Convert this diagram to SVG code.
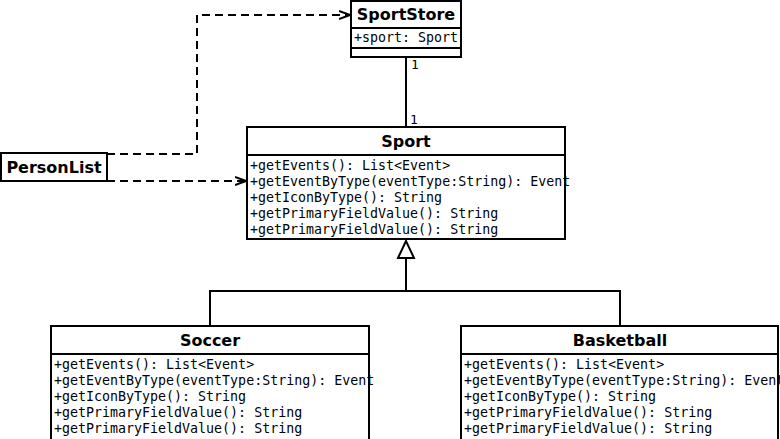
<svg xmlns="http://www.w3.org/2000/svg" width="780" height="439" viewBox="0 0 780 439">
<style>
.box{fill:#fff;stroke:#000;stroke-width:2}
.ln{fill:none;stroke:#000;stroke-width:2}
.title{font-family:"DejaVu Sans",sans-serif;font-weight:bold;font-size:16px;text-anchor:middle}
.m{font-family:"DejaVu Sans Mono",monospace;font-size:13.3px}
.dash{fill:none;stroke:#000;stroke-width:2;stroke-dasharray:8,5}
.lbl{font-family:"DejaVu Sans Mono",monospace;font-size:13px}
</style>
<defs>
<marker id="open" viewBox="0 0 12 10" refX="11" refY="5" markerWidth="12" markerHeight="10" markerUnits="userSpaceOnUse" orient="auto">
<path d="M0,1 L11,5 L0,9" fill="none" stroke="#000" stroke-width="2"/>
</marker>
</defs>
<rect width="780" height="439" fill="#fff"/>
<g id="connectors">
<line class="ln" x1="406" y1="57" x2="406" y2="127"/>
<text class="lbl" x="411" y="69">1</text>
<text class="lbl" x="410" y="124">1</text>
<polyline class="dash" points="107,154 197,154 197,15 350,15" marker-end="url(#open)"/>
<polyline class="dash" points="107,181 246,181" marker-end="url(#open)"/>
<polyline class="ln" points="210,326 210,291 620,291 620,326"/>
<line class="ln" x1="406" y1="291" x2="406" y2="258"/>
<polygon points="406,241 398,258 414,258" fill="#fff" stroke="#000" stroke-width="2"/>
</g>
<g id="SportStore">
<rect class="box" x="351" y="1" width="110" height="56"/>
<line class="ln" x1="351" y1="28" x2="461" y2="28"/>
<line class="ln" x1="351" y1="48" x2="461" y2="48"/>
<text class="title" x="406" y="20">SportStore</text>
<text class="m" x="354" y="42">+sport: Sport</text>
</g>
<g id="PersonList">
<rect class="box" x="1" y="153" width="106" height="28"/>
<text class="title" x="54" y="173">PersonList</text>
</g>
<g id="Sport">
<rect class="box" x="247" y="127" width="318" height="112"/>
<line class="ln" x1="247" y1="155" x2="565" y2="155"/>
<text class="title" x="406" y="147">Sport</text>
<text class="m" x="250" y="170">+getEvents(): List&lt;Event&gt;</text>
<text class="m" x="250" y="186">+getEventByType(eventType:String): Event</text>
<text class="m" x="250" y="202">+getIconByType(): String</text>
<text class="m" x="250" y="218">+getPrimaryFieldValue(): String</text>
<text class="m" x="250" y="234">+getPrimaryFieldValue(): String</text>
</g>
<g id="Soccer">
<rect class="box" x="51" y="326" width="318" height="120"/>
<line class="ln" x1="51" y1="354" x2="369" y2="354"/>
<text class="title" x="210" y="346">Soccer</text>
<text class="m" x="54" y="369">+getEvents(): List&lt;Event&gt;</text>
<text class="m" x="54" y="385">+getEventByType(eventType:String): Event</text>
<text class="m" x="54" y="401">+getIconByType(): String</text>
<text class="m" x="54" y="417">+getPrimaryFieldValue(): String</text>
<text class="m" x="54" y="433">+getPrimaryFieldValue(): String</text>
</g>
<g id="Basketball">
<rect class="box" x="461" y="326" width="317" height="120"/>
<line class="ln" x1="461" y1="354" x2="778" y2="354"/>
<text class="title" x="620" y="346">Basketball</text>
<text class="m" x="464" y="369">+getEvents(): List&lt;Event&gt;</text>
<text class="m" x="464" y="385">+getEventByType(eventType:String): Event</text>
<text class="m" x="464" y="401">+getIconByType(): String</text>
<text class="m" x="464" y="417">+getPrimaryFieldValue(): String</text>
<text class="m" x="464" y="433">+getPrimaryFieldValue(): String</text>
</g>
</svg>
